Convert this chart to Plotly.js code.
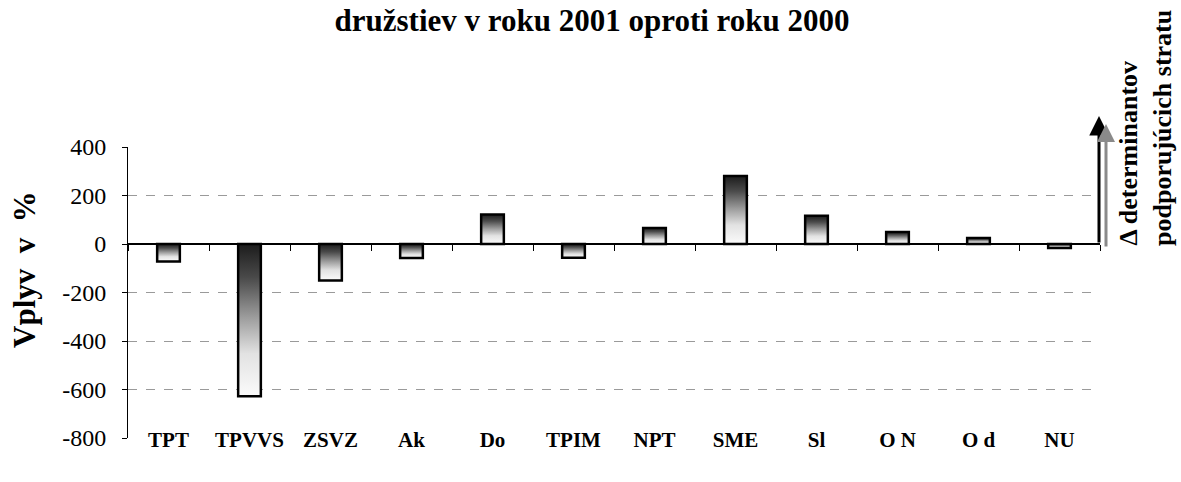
<!DOCTYPE html>
<html>
<head>
<meta charset="utf-8">
<script src="https://cdn.plot.ly/plotly-3.0.1.min.js"></script>
<style>
html,body{margin:0;padding:0;background:#fff;}
#chart{width:1181px;height:482px;}
</style>
</head>
<body>
<div id="chart"></div>
<script>
// ---- data ----
var categories = ["TPT", "TPVVS", "ZSVZ", "Ak", "Do", "TPIM", "NPT", "SME", "Sl", "O N", "O d", "NU"];
var values = [-72, -628, -150, -58, 122, -57, 66, 280, 116, 49, 25, -16];
var yTickVals = [400, 200, 0, -200, -400, -600, -800];
var titleText = "družstiev v roku 2001 oproti roku 2000";
var yTitleText = "Vplyv\u00a0 v\u00a0 %";
var sideLabel1 = "\u0394 determinantov";
var sideLabel2 = "podporujúcich stratu";

var boundaries = categories.map(function (c, i) { return i - 0.5; }).concat([categories.length - 0.5]);

var FONT = "Liberation Serif, Times New Roman, serif";

var traces = [
  {
    type: "bar",
    x: categories,
    y: values,
    width: 0.28,
    marker: { color: "#ffffff", line: { color: "#000000", width: 2.5 } },
    hoverinfo: "x+y",
    xaxis: "x",
    yaxis: "y"
  },
  {
    type: "scatter",
    mode: "markers",
    x: [],
    y: [],
    xaxis: "x2",
    yaxis: "y",
    showlegend: false,
    hoverinfo: "skip"
  }
];

var layout = {
  width: 1181,
  height: 482,
  paper_bgcolor: "#ffffff",
  plot_bgcolor: "#ffffff",
  showlegend: false,
  margin: { l: 128, r: 81, t: 147, b: 44 },
  font: { family: FONT, color: "#000000" },
  title: {
    text: "<b>" + titleText + "</b>",
    font: { family: FONT, size: 31, color: "#000000" },
    x: 592 / 1181,
    xref: "container",
    xanchor: "center",
    y: 1 - 20 / 482,
    yref: "container",
    yanchor: "middle"
  },
  xaxis: {
    type: "category",
    range: [-0.5, categories.length - 0.5],
    anchor: "free",
    position: 0.05,
    showline: false,
    showgrid: false,
    zeroline: false,
    ticks: "",
    tickfont: { family: FONT, size: 21, color: "#000000" },
    ticklabelstandoff: 2,
    tickmode: "array",
    tickvals: categories,
    ticktext: categories.map(function (c) { return "<b>" + c + "</b>"; })
  },
  xaxis2: {
    type: "linear",
    overlaying: "x",
    anchor: "free",
    position: 2 / 3,
    range: [-0.5, categories.length - 0.5],
    showline: false,
    showgrid: false,
    zeroline: false,
    showticklabels: false,
    ticks: "outside",
    ticklen: 6,
    tickwidth: 1,
    tickcolor: "#000000",
    tickmode: "array",
    tickvals: boundaries
  },
  yaxis: {
    range: [-800, 400],
    showline: true,
    linecolor: "#000000",
    linewidth: 1,
    ticks: "outside",
    ticklen: 5,
    tickwidth: 1,
    tickcolor: "#000000",
    tickmode: "array",
    tickvals: yTickVals,
    ticktext: yTickVals.map(String),
    tickfont: { family: FONT, size: 24, color: "#000000" },
    ticklabelstandoff: 11,
    showgrid: true,
    gridcolor: "#9a9a9a",
    gridwidth: 1,
    griddash: "dash",
    zeroline: true,
    zerolinecolor: "#000000",
    zerolinewidth: 1.5
  },
  annotations: [
    {
      text: "<b>" + yTitleText + "</b>",
      textangle: -90,
      xref: "paper", yref: "paper",
      x: (24 - 128) / 972, y: (438 - 270) / 291,
      xanchor: "center", yanchor: "middle",
      showarrow: false,
      font: { family: FONT, size: 31, color: "#000000" }
    },
    {
      text: "",
      xref: "paper", yref: "paper",
      x: (1099 - 128) / 972, y: (438 - 116) / 291,
      ax: 0, ay: 128,
      showarrow: true,
      arrowhead: 2, arrowsize: 1.3, arrowwidth: 3,
      arrowcolor: "#000000",
      standoff: 0
    },
    {
      text: "",
      xref: "paper", yref: "paper",
      x: (1106 - 128) / 972, y: (438 - 124) / 291,
      ax: 0, ay: 124,
      showarrow: true,
      arrowhead: 2, arrowsize: 1.2, arrowwidth: 3,
      arrowcolor: "#8a8a8a",
      standoff: 0
    },
    {
      text: "<b>" + sideLabel1 + "</b>",
      textangle: -90,
      xref: "paper", yref: "paper",
      x: (1128 - 128) / 972, y: (438 - 248) / 291,
      xanchor: "center", yanchor: "bottom",
      showarrow: false,
      font: { family: FONT, size: 26, color: "#000000" }
    },
    {
      text: "<b>" + sideLabel2 + "</b>",
      textangle: -90,
      xref: "paper", yref: "paper",
      x: (1162 - 128) / 972, y: (438 - 248) / 291,
      xanchor: "center", yanchor: "bottom",
      showarrow: false,
      font: { family: FONT, size: 26, color: "#000000" }
    }
  ]
};

function applyGradient(gd) {
  var svg = gd.querySelector(".main-svg");
  if (!svg) return;
  var defs = svg.querySelector("defs");
  if (!defs) {
    defs = document.createElementNS("http://www.w3.org/2000/svg", "defs");
    svg.insertBefore(defs, svg.firstChild);
  }
  if (!document.getElementById("barGrad")) {
    var g = document.createElementNS("http://www.w3.org/2000/svg", "linearGradient");
    g.setAttribute("id", "barGrad");
    g.setAttribute("x1", "0"); g.setAttribute("y1", "0");
    g.setAttribute("x2", "0"); g.setAttribute("y2", "1");
    [["0", "#1c1c1c"], ["0.22", "#4a4a4a"], ["0.48", "#9c9c9c"], ["0.72", "#e2e2e2"], ["1", "#fbfbfb"]].forEach(function (s) {
      var st = document.createElementNS("http://www.w3.org/2000/svg", "stop");
      st.setAttribute("offset", s[0]);
      st.setAttribute("stop-color", s[1]);
      g.appendChild(st);
    });
    defs.appendChild(g);
  }
  gd.querySelectorAll(".barlayer .point path").forEach(function (p) {
    p.style.fill = "url(#barGrad)";
    p.style.fillOpacity = "1";
  });
}

var gd = document.getElementById("chart");
Plotly.newPlot(gd, traces, layout, { displayModeBar: false, staticPlot: true }).then(function () {
  applyGradient(gd);
  gd.on("plotly_afterplot", function () { applyGradient(gd); });
});
</script>
</body>
</html>
